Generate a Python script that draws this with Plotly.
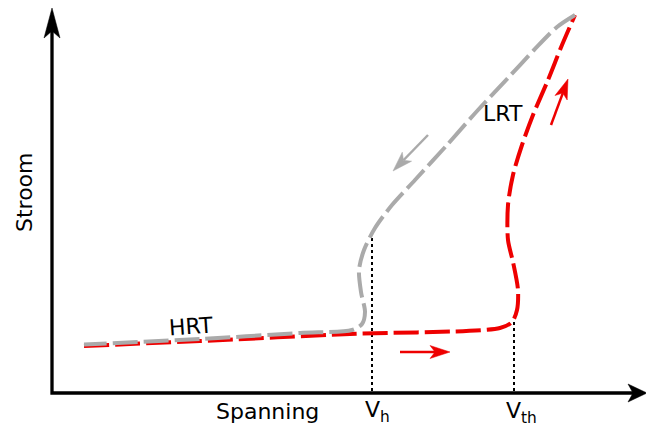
import numpy as np
import plotly.graph_objects as go

# Canvas coordinates: x to the right, y downward (matches the 646x428 drawing)
W, H = 646, 428

# Reset branch (LRT -> HRT), grey
reset_x = [575, 557, 534, 508, 478, 447, 415, 392, 375, 364, 359, 361, 365, 362, 352, 300, 200, 84]
reset_y = [15, 27, 50, 78, 110, 145, 180, 205, 228, 250, 270, 292, 312, 324, 330, 333, 339, 344.5]

# Set branch (HRT -> LRT), red
set_x = [84, 200, 350, 500, 512, 517, 518, 513, 508, 508, 513, 522, 533, 548, 562, 575]
set_y = [346, 341, 334, 328, 322, 310, 290, 262, 240, 205, 175, 145, 115, 80, 45, 15]

# Threshold markers: x position, top of the marker
vh_x, vh_top = 372, 232
vth_x, vth_top = 514, 322

# Axes
origin = (52, 393)
y_axis_tip = (52, 8)
x_axis_tip = (647, 393)

# Direction arrows: (tail, tip, colour)
dir_arrows = [
    ((400, 352), (450, 352), "#ee0000"),
    ((551, 125), (568, 79), "#ee0000"),
    ((428, 135), (393, 171), "#aaaaaa"),
]

RED = "#ee0000"
GREY = "#aaaaaa"
FONT = "DejaVu Sans"


def head(tail, tip, length, half, notch):
    """Barbed arrowhead polygon pointing from tail to tip."""
    t = np.array(tail, float)
    p = np.array(tip, float)
    u = (p - t) / np.linalg.norm(p - t)
    n = np.array([-u[1], u[0]])
    base = p - u * length
    left = base + n * half
    right = base - n * half
    nock = base + u * notch
    pts = [p, left, nock, right, p]
    return [q[0] for q in pts], [q[1] for q in pts], nock


fig = go.Figure()

# Axes lines with arrowheads
yx, yy, ynock = head(origin, y_axis_tip, 30, 8, 7)
xx, xy, xnock = head(origin, x_axis_tip, 19, 9, 5)
fig.add_trace(go.Scatter(x=[ynock[0], origin[0], xnock[0]], y=[ynock[1], origin[1], xnock[1]],
                         mode="lines", line=dict(color="black", width=3.3)))
for hx, hy in [(yx, yy), (xx, xy)]:
    fig.add_trace(go.Scatter(x=hx, y=hy, mode="lines", fill="toself", fillcolor="black",
                             line=dict(color="black", width=0.5)))

# Threshold dotted lines
for vx, vt in [(vh_x, vh_top), (vth_x, vth_top)]:
    fig.add_trace(go.Scatter(x=[vx, vx], y=[vt, origin[1]], mode="lines",
                             line=dict(color="black", width=2, dash="3px,3px")))

# I-V branches
fig.add_trace(go.Scatter(x=set_x, y=set_y, mode="lines",
                         line=dict(color=RED, width=4, dash="25px,6px", shape="spline", smoothing=0.8)))
fig.add_trace(go.Scatter(x=reset_x, y=reset_y, mode="lines",
                         line=dict(color=GREY, width=4, dash="25px,6px", shape="spline", smoothing=0.8)))

# Direction arrows
for tail, tip, col in dir_arrows:
    ax_, ay_, nock = head(tail, tip, 20, 6.5, 5)
    fig.add_trace(go.Scatter(x=[tail[0], nock[0]], y=[tail[1], nock[1]], mode="lines",
                             line=dict(color=col, width=2.5)))
    fig.add_trace(go.Scatter(x=ax_, y=ay_, mode="lines", fill="toself", fillcolor=col,
                             line=dict(color=col, width=0.5)))

# Labels
labels = [
    ("Spanning", 267, 411, 0),
    ("Stroom", 24, 192, -90),
    ("HRT", 191, 326, -4),
    ("LRT", 503, 113, 0),
    ("V<sub>h</sub>", 377, 411, 0),
    ("V<sub>th</sub>", 521, 412, 0),
]
for txt, lx, ly, ang in labels:
    fig.add_annotation(x=lx, y=ly, xref="x", yref="y", text=txt, showarrow=False,
                       textangle=ang, font=dict(family=FONT, size=22, color="black"),
                       xanchor="center", yanchor="middle")

fig.update_layout(
    width=W, height=H,
    margin=dict(l=0, r=0, t=0, b=0),
    paper_bgcolor="white", plot_bgcolor="white",
    showlegend=False,
    xaxis=dict(range=[0, W], visible=False, fixedrange=True),
    yaxis=dict(range=[H, 0], visible=False, fixedrange=True),
)

fig.write_html("out.html")
